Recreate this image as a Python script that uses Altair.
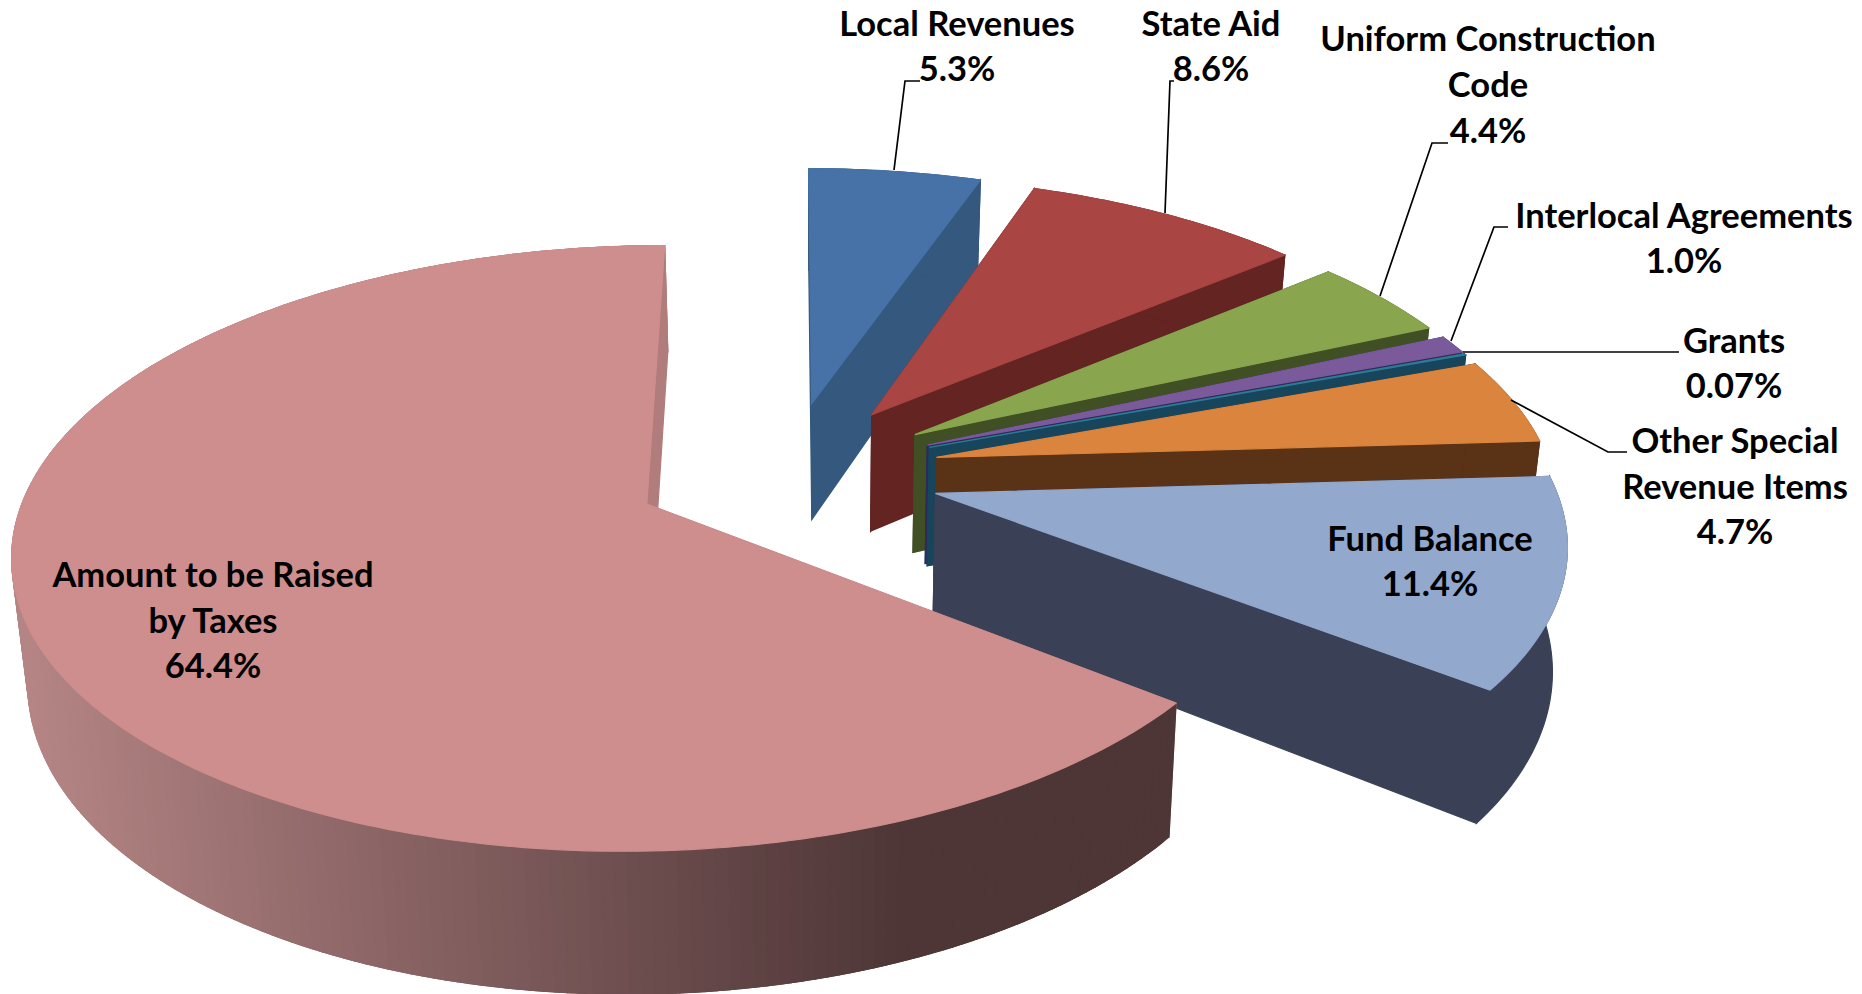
import math
import altair as alt

# ---- chart values -------------------------------------------------------
categories = ["Local Revenues", "State Aid", "Uniform Construction Code",
              "Interlocal Agreements", "Grants", "Other Special Revenue Items",
              "Fund Balance", "Amount to be Raised by Taxes"]
shares = [5.3, 8.6, 4.4, 1.0, 0.07, 4.7, 11.4, 64.4]
top_colors = ["#4672A7", "#A94543", "#89A54E", "#7B5A9C", "#2D7A92", "#DB843D", "#92A8CD", "#CE8E8D"]
wall_colors = ["#35587F", "#632422", "#405024", "#2E2A5C", "#17455C", "#5A3216", "#3A4156", "#B17C7C"]

label_lines = ["Local Revenues", "5.3%", "State Aid", "8.6%", "Uniform Construction", "Code", "4.4%",
               "Interlocal Agreements", "1.0%", "Grants", "0.07%", "Other Special", "Revenue Items",
               "4.7%", "Fund Balance", "11.4%", "Amount to be Raised", "by Taxes", "64.4%"]
label_x = [957, 957, 1211, 1211, 1488, 1488, 1488, 1684, 1684, 1734, 1734, 1735, 1735, 1735,
           1430, 1430, 213, 213, 213]
label_y = [26, 71, 26, 71, 41, 87, 133, 218, 263, 343, 388, 443, 489, 534, 541, 586, 577, 623, 668]

leaders = [
    [(894, 170), (905, 81), (920, 81)],
    [(1165, 213), (1170, 81), (1174, 81)],
    [(1380, 296), (1432, 143), (1448, 143)],
    [(1451, 341), (1494, 227), (1508, 227)],
    [(1463, 352), (1679, 352)],
    [(1511, 400), (1608, 452), (1627, 452)],
]

# ---- perspective model of the exploded 3D pie ---------------------------
CX, CY, RX, RY, K, EXPLODE = 787.0, 472.0, 615.0, 287.0, 0.144, 0.25
THICK, XV, CONV = 120.0, 820.0, 0.02
total = 100.0


def top_pt(x0, y0, r, theta):
    X = x0 + r * math.sin(theta)
    Y = y0 + r * math.cos(theta)
    w = 1 + K * Y
    return (CX + RX * X / w, CY - RY * Y / w, w)


def low_pt(p):
    return (XV + (p[0] - XV) * (1 - CONV), p[1] + THICK / p[2], p[2])


def xy(p):
    return [round(p[0], 2), round(p[1], 2)]


def feature(points, color):
    ring = [xy(p) for p in points]
    ring.append(ring[0])
    return {"type": "Feature", "geometry": {"type": "Polygon", "coordinates": [ring]},
            "properties": {"fill": color}}


def shade(x):
    t = min(1.0, max(0.0, (x - 20) / 880))
    a, b = (0xB5, 0x85, 0x85), (0x4E, 0x36, 0x37)
    return "#%02X%02X%02X" % tuple(round(a[i] + (b[i] - a[i]) * t) for i in range(3))


features = []
cum = 0.0
for i, share in enumerate(shares):
    a0 = cum / total * 2 * math.pi
    a1 = (cum + share) / total * 2 * math.pi
    last = i == len(shares) - 1
    if last:
        a1 = 2 * math.pi
    cum += share
    mid = (a0 + a1) / 2
    x0, y0 = EXPLODE * math.sin(mid), EXPLODE * math.cos(mid)
    n = max(2, int(math.degrees(a1 - a0)))
    angles = [a0 + (a1 - a0) * j / n for j in range(n + 1)]
    rim = [top_pt(x0, y0, 1, a) for a in angles]
    apex = top_pt(x0, y0, 0, a0)
    low = [low_pt(p) for p in rim]
    apex_low = low_pt(apex)
    features.append(feature([apex, rim[0], low[0], apex_low], wall_colors[i]))
    features.append(feature([apex, rim[-1], low[-1], apex_low], wall_colors[i]))
    if last:
        # shaded rim: each band overlaps the next so that no seams show
        for j in range(n):
            e = min(n, j + 2)
            back = math.degrees(angles[j]) >= 300
            color = wall_colors[i] if back else shade((rim[j][0] + rim[j + 1][0]) / 2)
            features.append(feature(rim[j:e + 1] + low[j:e + 1][::-1], color))
    else:
        features.append(feature(rim + low[::-1], wall_colors[i]))
    features.append(feature([apex] + rim, top_colors[i]))

proj = dict(type="identity", reflectY=False, scale=1, translate=[-8, -8])

shapes = alt.Chart(alt.InlineData(values={"type": "FeatureCollection", "features": features},
                                  format=alt.DataFormat(property="features", type="json"))).mark_geoshape(
    strokeWidth=1.2
).encode(
    fill=alt.Fill("properties.fill:N", scale=None, legend=None),
    stroke=alt.Stroke("properties.fill:N", scale=None, legend=None),
).project(**proj)

line_features = [{"type": "Feature",
                  "geometry": {"type": "LineString", "coordinates": [list(p) for p in pts]},
                  "properties": {"n": k}} for k, pts in enumerate(leaders)]
lines = alt.Chart(alt.InlineData(values={"type": "FeatureCollection", "features": line_features},
                                 format=alt.DataFormat(property="features", type="json"))).mark_geoshape(
    filled=False, stroke="#000000", strokeWidth=1.7
).project(**proj)

label_rows = [{"t": t, "lon": x, "lat": y} for t, x, y in zip(label_lines, label_x, label_y)]
labels = alt.Chart(alt.Data(values=label_rows)).mark_text(
    font="Lato", fontWeight="bold", fontSize=34.5, color="#000000", align="center", baseline="middle"
).encode(longitude="lon:Q", latitude="lat:Q", text="t:N").project(**proj)

chart = alt.layer(shapes, lines, labels).properties(
    width=1846, height=986, background="#FFFFFF", padding=0,
    autosize=alt.AutoSizeParams(type="none")
).configure_view(stroke=None)

chart.save("out.html", embed_options={"renderer": "svg", "actions": False})
